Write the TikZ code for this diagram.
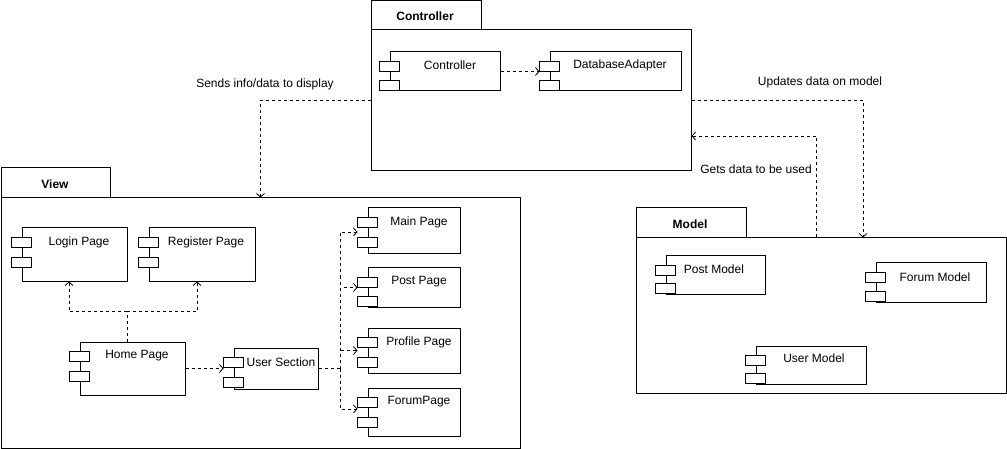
\documentclass[tikz,border=0pt]{standalone}
\usepackage{fontspec}
\setmainfont{Liberation Sans}
\usetikzlibrary{arrows.meta,fit,calc}

\tikzset{
  pkgbody/.style={draw, line width=1pt, fill=white, inner sep=0pt},
  pkgtab/.style={draw, line width=1pt, fill=white, inner sep=0pt},
  pkgname/.style={font=\fontsize{12}{14}\selectfont\bfseries, inner sep=0pt},
  compbox/.style={draw, line width=1pt, fill=white, inner sep=0pt},
  port/.style={draw, line width=1pt, fill=white},
  lbl/.style={font=\fontsize{12}{14}\selectfont, inner sep=0pt},
  depline/.style={draw, line width=0.8pt, dash pattern=on 3pt off 3pt},
  dep/.style={depline, -{Straight Barb[length=3.5pt,width=8pt]}},
}

% UML component: name, x0, y0, x1, y1, offset of second port, label x, label y, text
\newcommand\umlcomp[9]{%
  \node[compbox, fit={(#2,#3) (#4,#5)}] (#1) {};
  \draw[port] ($(#1.north west)+(-10,10)$) rectangle ++(20,10);
  \draw[port] ($(#1.north west)+(-10,#6)$) rectangle ++(20,10);
  \node[lbl] (#1-text) at (#7,#8) {#9};
}

\begin{document}
\begin{tikzpicture}[x=1pt,y=-1pt]
\useasboundingbox (0,0) rectangle (1007,449);

% packages
\node[pkgtab, fit={(371,1) (481,30)}] (ctrltab) {};
\node[pkgname] (ctrlname) at (425,16) {Controller};
\node[pkgbody, fit={(371,30) (691,171)}] (ctrlpkg) {};
\node[pkgtab, fit={(1,168) (110,198)}] (viewtab) {};
\node[pkgname] (viewname) at (55,184) {View};
\node[pkgbody, fit={(1,198) (520,448)}] (viewpkg) {};
\node[pkgtab, fit={(636,208) (746,238)}] (modeltab) {};
\node[pkgname] (modelname) at (690,224) {Model};
\node[pkgbody, fit={(636,238) (1006,393)}] (modelpkg) {};

% controller components
\umlcomp{ctrl}{390}{52}{500}{91}{29}{450}{65}{Controller}
\umlcomp{dbad}{550}{52}{681}{91}{29}{620}{65}{DatabaseAdapter}

% view components
\umlcomp{login}{22}{228}{127}{281}{30}{79}{242}{Login Page}
\umlcomp{register}{149}{228}{255}{281}{30}{206}{242}{Register Page}
\umlcomp{home}{80}{342}{185}{395}{30}{137}{356}{Home Page}
\umlcomp{usec}{234}{348}{318}{389}{30}{281}{362}{User Section}
\umlcomp{mainp}{368}{208}{460}{254}{30}{419}{222}{Main Page}
\umlcomp{postp}{368}{268}{460}{307}{29}{419}{282}{Post Page}
\umlcomp{profp}{368}{328}{460}{373}{30}{419}{342}{Profile Page}
\umlcomp{forump}{368}{388}{460}{436}{30}{419}{402}{ForumPage}

% model components
\umlcomp{postm}{666}{256}{765}{294}{28}{714}{269}{Post Model}
\umlcomp{forumm}{876}{263}{986}{302}{29}{935}{277}{Forum Model}
\umlcomp{userm}{756}{346}{866}{384}{28}{814}{358}{User Model}

% dependencies inside the controller
\draw[dep] (ctrl.east) -- ([xshift=-10pt]dbad.west);

% dependencies inside the view
\draw[depline] ([xshift=-5.5pt]home.north) -- ++(0,-30) coordinate (hsplit);
\draw[dep] (hsplit) -| ([xshift=-5.5pt]login.south);
\draw[dep] (hsplit) -| ([xshift=-5pt]register.south);
\draw[dep] (home.east) -- ([xshift=-10pt]usec.west);
\draw[depline, line width=1.2pt] (usec.east) -- ++(22,0) coordinate (ubus);
\draw[dep] (ubus) |- ([xshift=-10pt,yshift=-1pt]mainp.west);
\draw[dep] (ubus) |- ([xshift=-10pt]postp.west);
\draw[dep] (ubus) |- ([xshift=-10pt]profp.west);
\draw[dep] (ubus) |- ([xshift=-10pt,yshift=3pt]forump.west);

% dependencies between packages
\draw[dep] (ctrlpkg.west) -| (viewpkg.north);
\draw[dep] (ctrlpkg.east) -| ([xshift=42pt]modelpkg.north);
\draw[dep] ([xshift=-5pt]modelpkg.north) |- ([yshift=-35.5pt]ctrlpkg.east);

% connector labels
\node[lbl] (lsend) at (265,84) {Sends info/data to display};
\node[lbl] (lupd) at (820,82) {Updates data on model};
\node[lbl] (lget) at (756,169) {Gets data to be used};
\end{tikzpicture}
\end{document}
